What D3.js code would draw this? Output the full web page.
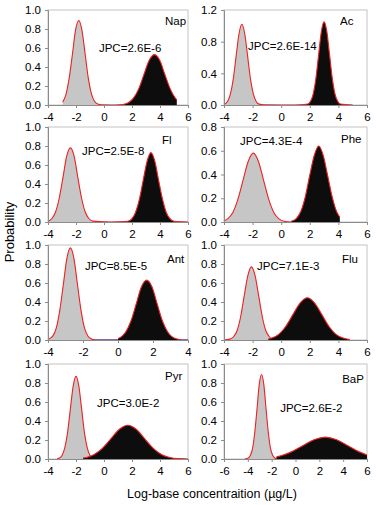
<!DOCTYPE html>
<html>
<head>
<meta charset="utf-8">
<script src="https://cdn.jsdelivr.net/npm/d3@7"></script>
<style>
  body { margin: 0; background: #fff; }
  text { font-family: "Liberation Sans", Arial, sans-serif; }
</style>
</head>
<body>
<svg id="chart" width="378" height="505"></svg>
<script>
// panel names and JPC values
const names = ["Nap", "Ac", "Fl", "Phe", "Ant", "Flu", "Pyr", "BaP"]
const jpcLabels = ["JPC=2.6E-6", "JPC=2.6E-14", "JPC=2.5E-8", "JPC=4.3E-4",
                   "JPC=8.5E-5", "JPC=7.1E-3", "JPC=3.0E-2", "JPC=2.6E-2"]
const xDomains = [[-4, 6], [-4, 6], [-4, 6], [-4, 6], [-4, 4], [-4, 6], [-4, 6], [-6, 6]]
const yMaxes = [1.0, 1.2, 1.0, 0.8, 1.0, 1.0, 1.0, 1.0]
const yTickSteps = [0.2, 0.4, 0.2, 0.2, 0.2, 0.2, 0.2, 0.2]
// label anchor points, in data units: [x, y]
const namePos = [[4.36, 0.84], [4.11, 1.01], [4.14, 0.82], [4.18, 0.665],
                 [2.8, 0.81], [4.25, 0.81], [4.36, 0.83], [3.92, 0.8]]
const jpcPos = [[-0.36, 0.56], [-2.32, 0.70], [-1.57, 0.705], [-2.88, 0.65],
                [-1.89, 0.74], [-1.69, 0.74], [-0.5, 0.55], [-1.29, 0.49]]

// probability curves: [log concentration, probability]
const napGray = [[-2.95,0.03],[-2.7,0.12],[-2.48,0.29],[-2.25,0.54],[-2.03,0.79],[-1.8,0.89],[-1.58,0.79],[-1.35,0.54],[-1.13,0.29],[-0.9,0.12],[-0.68,0.04],[-0.45,0.01],[-0.2,0.002],[0.5,0]]
const napBlack = [[0.5,0],[1.35,0.006],[1.73,0.023],[2.1,0.072],[2.48,0.17],[2.85,0.32],[3.23,0.47],[3.6,0.53],[3.98,0.47],[4.35,0.32],[4.73,0.17],[5.1,0.072],[5.2,0.055]]
const acGray = [[-4,0.008],[-3.75,0.045],[-3.55,0.14],[-3.35,0.33],[-3.15,0.62],[-2.95,0.9],[-2.75,1.02],[-2.55,0.9],[-2.35,0.62],[-2.15,0.33],[-1.95,0.14],[-1.75,0.045],[-1.55,0.011],[-1.2,0.001],[0,0]]
const acBlack = [[0,0],[1.0,0.0005],[1.86,0.012],[2.05,0.046],[2.24,0.14],[2.43,0.34],[2.62,0.64],[2.81,0.93],[3.0,1.05],[3.19,0.93],[3.38,0.64],[3.57,0.34],[3.76,0.14],[3.95,0.046],[4.14,0.012],[5.0,0]]
const flGray = [[-4,0.009],[-3.73,0.034],[-3.46,0.105],[-3.2,0.25],[-2.93,0.47],[-2.67,0.69],[-2.4,0.78],[-2.13,0.69],[-1.87,0.47],[-1.6,0.25],[-1.34,0.105],[-1.07,0.034],[-0.8,0.009],[0.5,0]]
const flBlack = [[0.5,0],[1.7,0.008],[1.98,0.032],[2.25,0.1],[2.53,0.24],[2.8,0.44],[3.08,0.64],[3.35,0.73],[3.63,0.64],[3.9,0.44],[4.18,0.24],[4.45,0.1],[4.73,0.032],[5.0,0.008],[6,0]]
const pheGray = [[-4,0.01],[-3.75,0.026],[-3.39,0.078],[-3.03,0.19],[-2.67,0.35],[-2.31,0.51],[-1.95,0.58],[-1.59,0.51],[-1.23,0.35],[-0.87,0.19],[-0.51,0.078],[-0.15,0.026],[0.21,0.006],[0.7,0]]
const pheBlack = [[0.7,0.006],[1.05,0.028],[1.36,0.086],[1.68,0.21],[1.99,0.39],[2.31,0.56],[2.62,0.64],[2.94,0.56],[3.25,0.39],[3.57,0.21],[3.88,0.086],[4.1,0.04]]
const antGray = [[-4,0.006],[-3.72,0.043],[-3.52,0.13],[-3.32,0.32],[-3.12,0.59],[-2.92,0.86],[-2.72,0.97],[-2.52,0.86],[-2.32,0.59],[-2.12,0.32],[-1.92,0.13],[-1.72,0.043],[-1.52,0.011],[-1.3,0]]
const antBlack = [[0,0.015],[0.14,0.028],[0.44,0.085],[0.74,0.2],[1.04,0.38],[1.34,0.56],[1.64,0.63],[1.94,0.56],[2.24,0.38],[2.54,0.2],[2.84,0.085],[3.14,0.028],[3.44,0.007],[3.6,0]]
const fluGray = [[-4,0],[-3.58,0.009],[-3.33,0.034],[-3.08,0.1],[-2.83,0.25],[-2.58,0.47],[-2.33,0.68],[-2.08,0.77],[-1.83,0.68],[-1.58,0.47],[-1.33,0.25],[-1.08,0.1],[-0.83,0.034],[-0.58,0.009],[-0.3,0]]
const fluBlack = [[-0.9,0.011],[-0.67,0.02],[-0.17,0.06],[0.33,0.145],[0.83,0.27],[1.33,0.39],[1.83,0.445],[2.33,0.39],[2.83,0.27],[3.33,0.145],[3.83,0.06],[4.33,0.02],[4.8,0.005]]
const pyrGray = [[-3.35,0],[-3.2,0.01],[-3.0,0.038],[-2.8,0.12],[-2.6,0.28],[-2.4,0.53],[-2.2,0.77],[-2.0,0.87],[-1.8,0.77],[-1.6,0.53],[-1.4,0.28],[-1.2,0.12],[-1.0,0.038],[-0.8,0.01],[-0.6,0]]
const pyrBlack = [[-1.5,0.01],[-1.2,0.019],[-0.7,0.048],[-0.1,0.115],[0.5,0.215],[1.1,0.313],[1.7,0.355],[2.3,0.313],[2.9,0.215],[3.5,0.115],[4.1,0.048],[4.7,0.016],[5.3,0.004],[6,0]]
const bapGray = [[-4.25,0],[-3.96,0.01],[-3.78,0.039],[-3.59,0.12],[-3.41,0.29],[-3.22,0.54],[-3.04,0.785],[-2.85,0.89],[-2.66,0.785],[-2.48,0.54],[-2.29,0.29],[-2.11,0.12],[-1.92,0.039],[-1.74,0.01],[-1.6,0.003]]
const bapBlack = [[-1.6,0.022],[-1.3,0.031],[-0.35,0.075],[0.6,0.14],[1.55,0.203],[2.5,0.23],[3.45,0.203],[4.4,0.14],[5.35,0.075],[6,0.043]]

const grayCurves = [napGray, acGray, flGray, pheGray, antGray, fluGray, pyrGray, bapGray]
const blackCurves = [napBlack, acBlack, flBlack, pheBlack, antBlack, fluBlack, pyrBlack, bapBlack]

const svg = d3.select("#chart")

// layout of the 4x2 grid
const colLeft = [48, 224]
const colWidth = [140, 143]
const rowTop = [10, 127, 245, 364]
const plotH = 95

names.forEach((name, i) => {
    let col = i % 2, row = Math.floor(i / 2)
    let w = colWidth[col], h = plotH

    let g = svg.append("g")
        .attr("transform", "translate(" + colLeft[col] + "," + rowTop[row] + ")")

    let x = d3.scaleLinear().domain(xDomains[i]).range([0, w])
    let y = d3.scaleLinear().domain([0, yMaxes[i]]).range([h, 0])

    // frame
    g.append("rect")
        .attr("width", w).attr("height", h)
        .attr("fill", "none")
        .attr("stroke", "#c4c4c4")

    let area = d3.area()
        .x(d => x(d[0]))
        .y0(y(0))
        .y1(d => y(d[1]))
        .curve(d3.curveMonotoneX)

    let line = d3.line()
        .x(d => x(d[0]))
        .y(d => y(d[1]))
        .curve(d3.curveMonotoneX)

    // Ant has a purple zero line along the baseline
    if (name == "Ant") {
        g.append("line")
            .attr("x1", x(xDomains[i][0])).attr("x2", x(xDomains[i][1]))
            .attr("y1", y(0)).attr("y2", y(0))
            .attr("stroke", "#6a3d9a")
            .attr("stroke-width", 1.3)
    }

    g.append("path").datum(grayCurves[i])
        .attr("d", area)
        .attr("fill", "#c6c6c6")
    g.append("path").datum(grayCurves[i])
        .attr("d", line)
        .attr("fill", "none")
        .attr("stroke", "#ee2020")
        .attr("stroke-width", 1.1)

    g.append("path").datum(blackCurves[i])
        .attr("d", area)
        .attr("fill", "#0d0d0d")
    g.append("path").datum(blackCurves[i])
        .attr("d", line)
        .attr("fill", "none")
        .attr("stroke", "#ee2020")
        .attr("stroke-width", 1.1)

    // axes
    let xTicks = d3.range(xDomains[i][0], xDomains[i][1] + 0.001, 2)
    let yTicks = d3.range(0, yMaxes[i] + 0.001, yTickSteps[i])

    let xAxis = g.append("g")
        .attr("transform", "translate(0," + h + ")")
        .call(d3.axisBottom(x).tickValues(xTicks).tickFormat(d => String(d)).tickSize(3).tickPadding(5))
    let yAxis = g.append("g")
        .call(d3.axisLeft(y).tickValues(yTicks).tickFormat(d3.format(".1f")).tickSize(3).tickPadding(4))

    ;[xAxis, yAxis].forEach(a => {
        a.select(".domain").attr("stroke", "#8c8c8c")
        a.selectAll(".tick line").attr("stroke", "#8c8c8c")
        a.selectAll(".tick text")
            .attr("fill", "#000")
            .style("font-size", "11.5px")
            .style("font-family", "'Liberation Sans', Arial, sans-serif")
    })

    g.append("text")
        .attr("x", x(namePos[i][0]))
        .attr("y", y(namePos[i][1]))
        .style("font-size", "11.5px")
        .text(name)

    g.append("text")
        .attr("x", x(jpcPos[i][0]))
        .attr("y", y(jpcPos[i][1]))
        .style("font-size", "11.5px")
        .text(jpcLabels[i])
})

svg.append("text")
    .attr("transform", "translate(14,232) rotate(-90)")
    .attr("text-anchor", "middle")
    .style("font-size", "13px")
    .text("Probability")

svg.append("text")
    .attr("x", 212)
    .attr("y", 498)
    .attr("text-anchor", "middle")
    .style("font-size", "12.5px")
    .text("Log-base concentraition (µg/L)")
</script>
</body>
</html>
